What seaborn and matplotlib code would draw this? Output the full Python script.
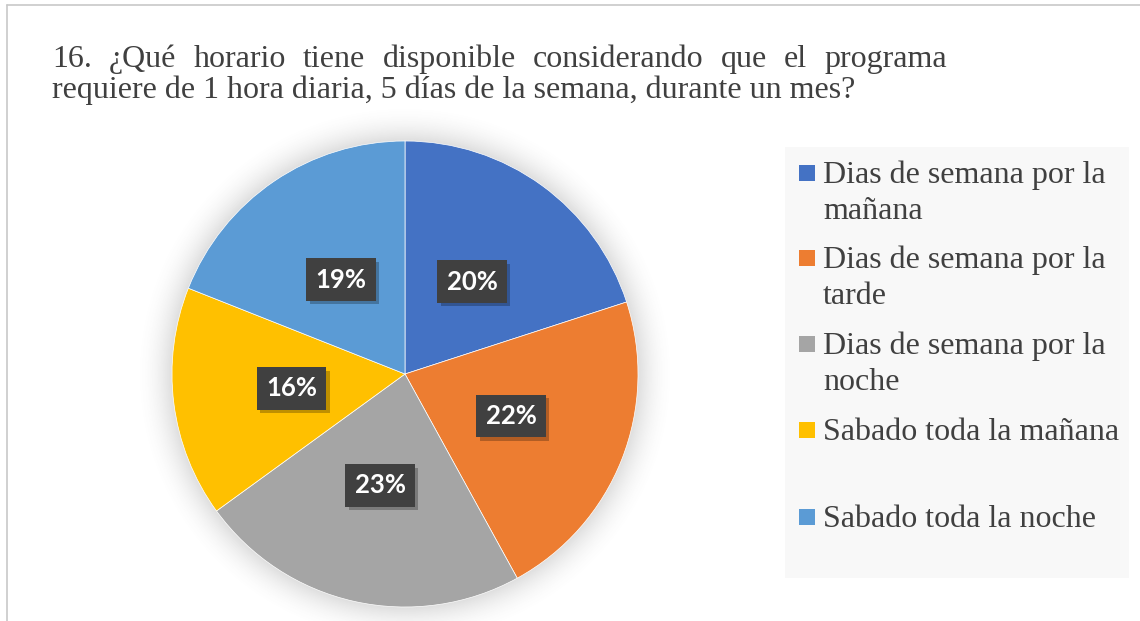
import matplotlib
matplotlib.use("Agg")
import matplotlib.pyplot as plt
import matplotlib.patheffects as pe
import numpy as np
import seaborn as sns
from matplotlib.lines import Line2D
from matplotlib.patches import Rectangle

W, H = 1140, 621

labels = [
    "Dias de semana por la\nmañana",
    "Dias de semana por la\ntarde",
    "Dias de semana por la\nnoche",
    "Sabado toda la mañana",
    "Sabado toda la noche",
]
values = [20, 22, 23, 16, 19]
colors = ["#4472C4", "#ED7D31", "#A5A5A5", "#FFC000", "#5B9BD5"]

title_line1 = "16. ¿Qué horario tiene disponible considerando que el programa"
title_line2 = "requiere de 1 hora diaria, 5 días de la semana, durante un mes?"

TEXT_COLOR = "#404040"
SERIF = ["Liberation Serif", "DejaVu Serif"]
FS = 23


def fx(px):
    return px / W


def fy(py):
    return 1 - py / H


sns.set_theme(style="white")
plt.rcParams["font.family"] = SERIF

fig = plt.figure(figsize=(W / 100, H / 100), dpi=100)
fig.patch.set_facecolor("white")

# chart frame (only left and top edges visible)
fig.add_artist(Line2D([fx(7), fx(7)], [fy(5), 0], color="#C8C8C8", lw=1.2))
fig.add_artist(Line2D([fx(7), 1], [fy(5), fy(5)], color="#C8C8C8", lw=1.2))

# title, first line justified like the original
renderer = fig.canvas.get_renderer()
words = title_line1.split(" ")
word_texts = [fig.text(0, 0, w, fontsize=FS, color=TEXT_COLOR) for w in words]
widths = [t.get_window_extent(renderer).width for t in word_texts]
left, right = 52, 947
gap = (right - left - sum(widths)) / (len(words) - 1)
x = left
for t, wdt in zip(word_texts, widths):
    t.set_position((fx(x), fy(67)))
    t.set_va("baseline")
    x += wdt + gap
fig.text(fx(52), fy(98), title_line2, fontsize=FS, color=TEXT_COLOR, va="baseline")

# pie
cx, cy, r = 405, 374, 233
lim = 1.2
half = r * lim
ax = fig.add_axes([fx(cx - half), fy(cy + half), 2 * half / W, 2 * half / H])
ax.set_xlim(-lim, lim)
ax.set_ylim(-lim, lim)
ax.axis("off")

# soft glow around the pie
g = np.linspace(-lim, lim, 400)
gx, gy = np.meshgrid(g, g)
d = np.hypot(gx, gy)
alpha = np.clip(1 - (d - 1) / 0.16, 0, 1) ** 2 * 0.22
alpha[d < 1] = 0.22
glow = np.zeros((400, 400, 4))
glow[..., :3] = 0.4
glow[..., 3] = alpha
ax.imshow(glow, extent=(-lim, lim, -lim, lim), zorder=0, interpolation="bilinear")

wedges, _, autotexts = ax.pie(
    values,
    colors=colors,
    startangle=90,
    counterclock=False,
    radius=1,
    autopct="%.0f%%",
    pctdistance=0.49,
    wedgeprops=dict(edgecolor="white", linewidth=0.5),
    textprops=dict(family=["Lato", "DejaVu Sans"], fontsize=18.5, fontweight="bold", color="white"),
)
for w in wedges:
    w.set_zorder(2)
for t in autotexts:
    t.set_zorder(5)
    t.set_bbox(dict(boxstyle="square,pad=0.36", facecolor="#404040", edgecolor="none"))
    t.get_bbox_patch().set_path_effects(
        [pe.SimplePatchShadow(offset=(2.5, -2.5), shadow_rgbFace="black", alpha=0.25), pe.Normal()]
    )
ax.set_xlim(-lim, lim)
ax.set_ylim(-lim, lim)

# legend panel
fig.add_artist(Rectangle((fx(785), fy(578)), fx(1129 - 785), (578 - 147) / H,
                         facecolor="#F8F8F8", edgecolor="none", zorder=0))
baselines = [183, 268, 354, 440, 527]
line_gap = 36
for lab, col, base in zip(labels, colors, baselines):
    fig.add_artist(Rectangle((fx(799), fy(base - 2)), fx(16), 16 / H,
                             facecolor=col, edgecolor="none"))
    for i, part in enumerate(lab.split("\n")):
        fig.text(fx(823), fy(base + i * line_gap), part, fontsize=FS,
                 color=TEXT_COLOR, va="baseline")

fig.savefig("out.png", dpi=100)
